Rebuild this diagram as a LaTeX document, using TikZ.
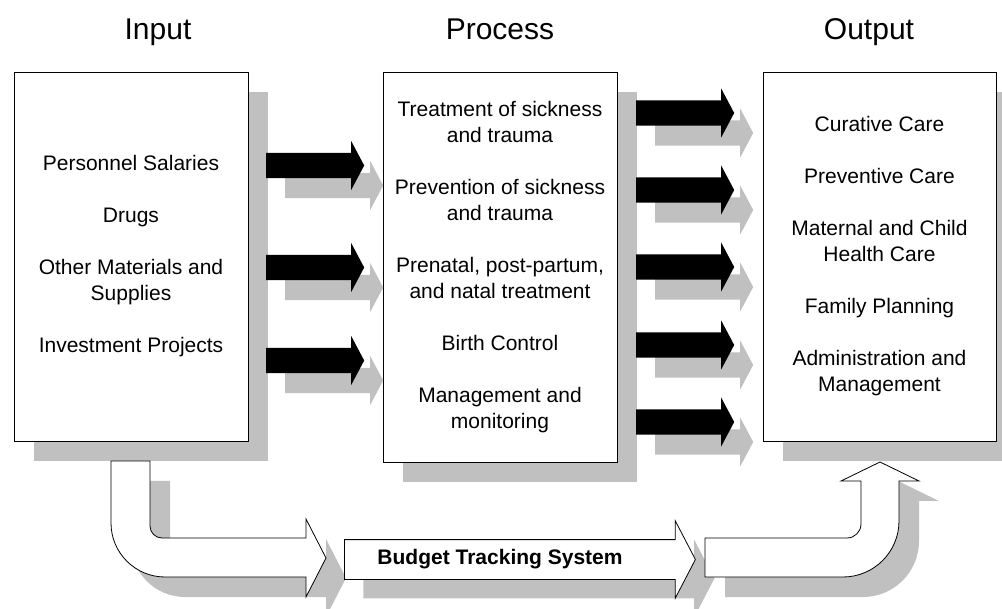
\documentclass[tikz,border=0pt]{standalone}
\usepackage{fontspec}
\setmainfont{Liberation Sans}
\usepackage{tikz}
\usetikzlibrary{shapes,positioning,shadows}
\definecolor{shadowgray}{RGB}{192,192,192}
\tikzstyle{grayshadow} = [drop shadow={shadow xshift=20pt, shadow yshift=-20pt, fill=shadowgray, opacity=1}]
\tikzstyle{stagebox} = [rectangle, draw=black, line width=0.8pt, fill=white, minimum width=234pt, text centered, align=center, inner sep=0pt, font=\fontsize{21}{26}\selectfont, grayshadow]
\tikzstyle{stagetitle} = [font=\fontsize{30}{34}\selectfont, anchor=base]
\tikzstyle{flowarrow} = [single arrow, fill=black, inner xsep=0pt, inner ysep=12.5pt, minimum height=98pt, single arrow head extend=12pt, single arrow tip angle=124, anchor=tail, drop shadow={shadow xshift=19pt, shadow yshift=-20pt, fill=shadowgray, opacity=1}]
\tikzstyle{bentarrow} = [draw=black, line width=0.8pt, fill=white, grayshadow]

\begin{document}
\begin{tikzpicture}[x=1pt, y=-1pt]
\useasboundingbox (0,0) rectangle (1002,609);
% titles
\node (intitle) [stagetitle] at (158,40) {Input};
\node (proctitle) [stagetitle] at (500,40) {Process};
\node (outtitle) [stagetitle] at (869,40) {Output};

% the three stages
\node (input) [stagebox, minimum height=369pt] at (131,256.5) {Personnel Salaries\\[26pt]Drugs\\[26pt]Other Materials and\\Supplies\\[26pt]Investment Projects};
\node (process) [stagebox, minimum height=390pt] at (500,267) {Treatment of sickness\\and trauma\\[26pt]Prevention of sickness\\and trauma\\[26pt]Prenatal, post-partum,\\and natal treatment\\[26pt]Birth Control\\[26pt]Management and\\monitoring};
\node (output) [stagebox, minimum width=233pt, minimum height=369pt] at (879.5,256.5) {Curative Care\\[26pt]Preventive Care\\[26pt]Maternal and Child\\Health Care\\[26pt]Family Planning\\[26pt]Administration and\\Management};

% input -> process
\node (in1) [flowarrow] at (266,165.5) {};
\node (in2) [flowarrow] at (266,267.5) {};
\node (in3) [flowarrow] at (266,360.5) {};

% process -> output
\node (out1) [flowarrow] at (636,113) {};
\node (out2) [flowarrow] at (636,190) {};
\node (out3) [flowarrow] at (636,267) {};
\node (out4) [flowarrow] at (636,345) {};
\node (out5) [flowarrow] at (636,422) {};

% budget tracking loop
\path[bentarrow] (111,461) -- (150,461) -- (150,526) arc[start angle=180, end angle=90, radius=12] -- (306,538) -- (306,519) -- (326,558) -- (306,597) -- (306,577) -- (165,577) arc[start angle=90, end angle=180, radius=54] -- cycle;
\node (budget) [single arrow, draw=black, line width=0.8pt, fill=white, inner xsep=0pt, inner ysep=19.5pt, minimum height=351pt, single arrow head extend=19pt, single arrow tip angle=125, anchor=tail, drop shadow={shadow xshift=19pt, shadow yshift=-19pt, fill=shadowgray, opacity=1}] at (344,559.5) {};
\node (budgetlabel) [font=\bfseries\fontsize{21}{26}\selectfont] at (500,559) {Budget Tracking System};
\path[bentarrow] (705,538) -- (847,538) arc[start angle=90, end angle=0, radius=14] -- (861,481) -- (841,481) -- (880,462) -- (919,481) -- (899,481) -- (899,521) arc[start angle=0, end angle=90, radius=56] -- (705,577) -- cycle;
\end{tikzpicture}
\end{document}
